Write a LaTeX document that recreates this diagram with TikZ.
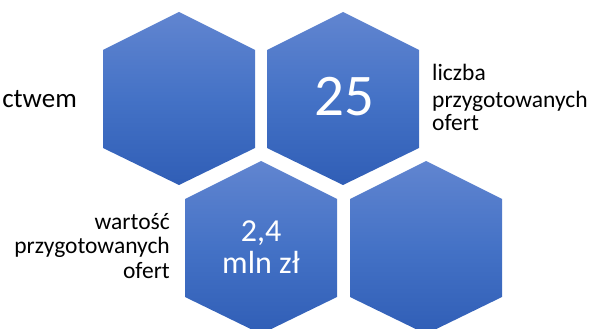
\documentclass[tikz,border=0pt]{standalone}
\usepackage{fontspec}
\setmainfont{Carlito}
\definecolor{hextop}{HTML}{6185D0}
\definecolor{hexmid}{HTML}{4472C6}
\definecolor{hexbot}{HTML}{305EB6}
\tikzset{
  hexfill/.style={top color=hextop, bottom color=hexbot, middle color=hexmid},
  labelblack/.style={inner sep=0pt, text=black, font=\fontsize{23.5}{25}\selectfont},
  bignum/.style={inner sep=0pt, text=white, font=\fontsize{59}{60}\selectfont},
  midnum/.style={inner sep=0pt, text=white, font=\fontsize{32}{32}\selectfont},
}
\begin{document}
\begin{tikzpicture}[x=1pt,y=-1pt]
\useasboundingbox (0,0) rectangle (595,329);
\foreach \cx/\ty in {179/12, 343/12, 261/161, 426/161}
  \shade[hexfill] (\cx,\ty) -- ++(76,38) -- ++(0,98) -- ++(-76,37) -- ++(-76,-37) -- ++(0,-98) -- cycle;
% left cut-off text
\node[inner sep=0pt, anchor=base east, font=\fontsize{27}{28}\selectfont] (lefttext) at (77,107) {ctwem};
% 25
\node[bignum, anchor=base] (num25) at (344.5,115) {25};
% liczba przygotowanych ofert
\node[labelblack, anchor=base west] (lA1) at (432,81) {liczba};
\node[labelblack, anchor=base west] (lA2) at (432,107) {przygotowanych};
\node[labelblack, anchor=base west] (lA3) at (432,131) {ofert};
% wartosc przygotowanych ofert
\node[labelblack, anchor=base east] (lB1) at (170,229) {wartość};
\node[labelblack, anchor=base east] (lB2) at (170,253) {przygotowanych};
\node[labelblack, anchor=base east] (lB3) at (170,278) {ofert};
% 2,4 mln zl
\node[midnum, anchor=base] (num24) at (261,241) {2,4};
\node[midnum, anchor=base] (mln) at (261,273) {mln zł};
\end{tikzpicture}
\end{document}
